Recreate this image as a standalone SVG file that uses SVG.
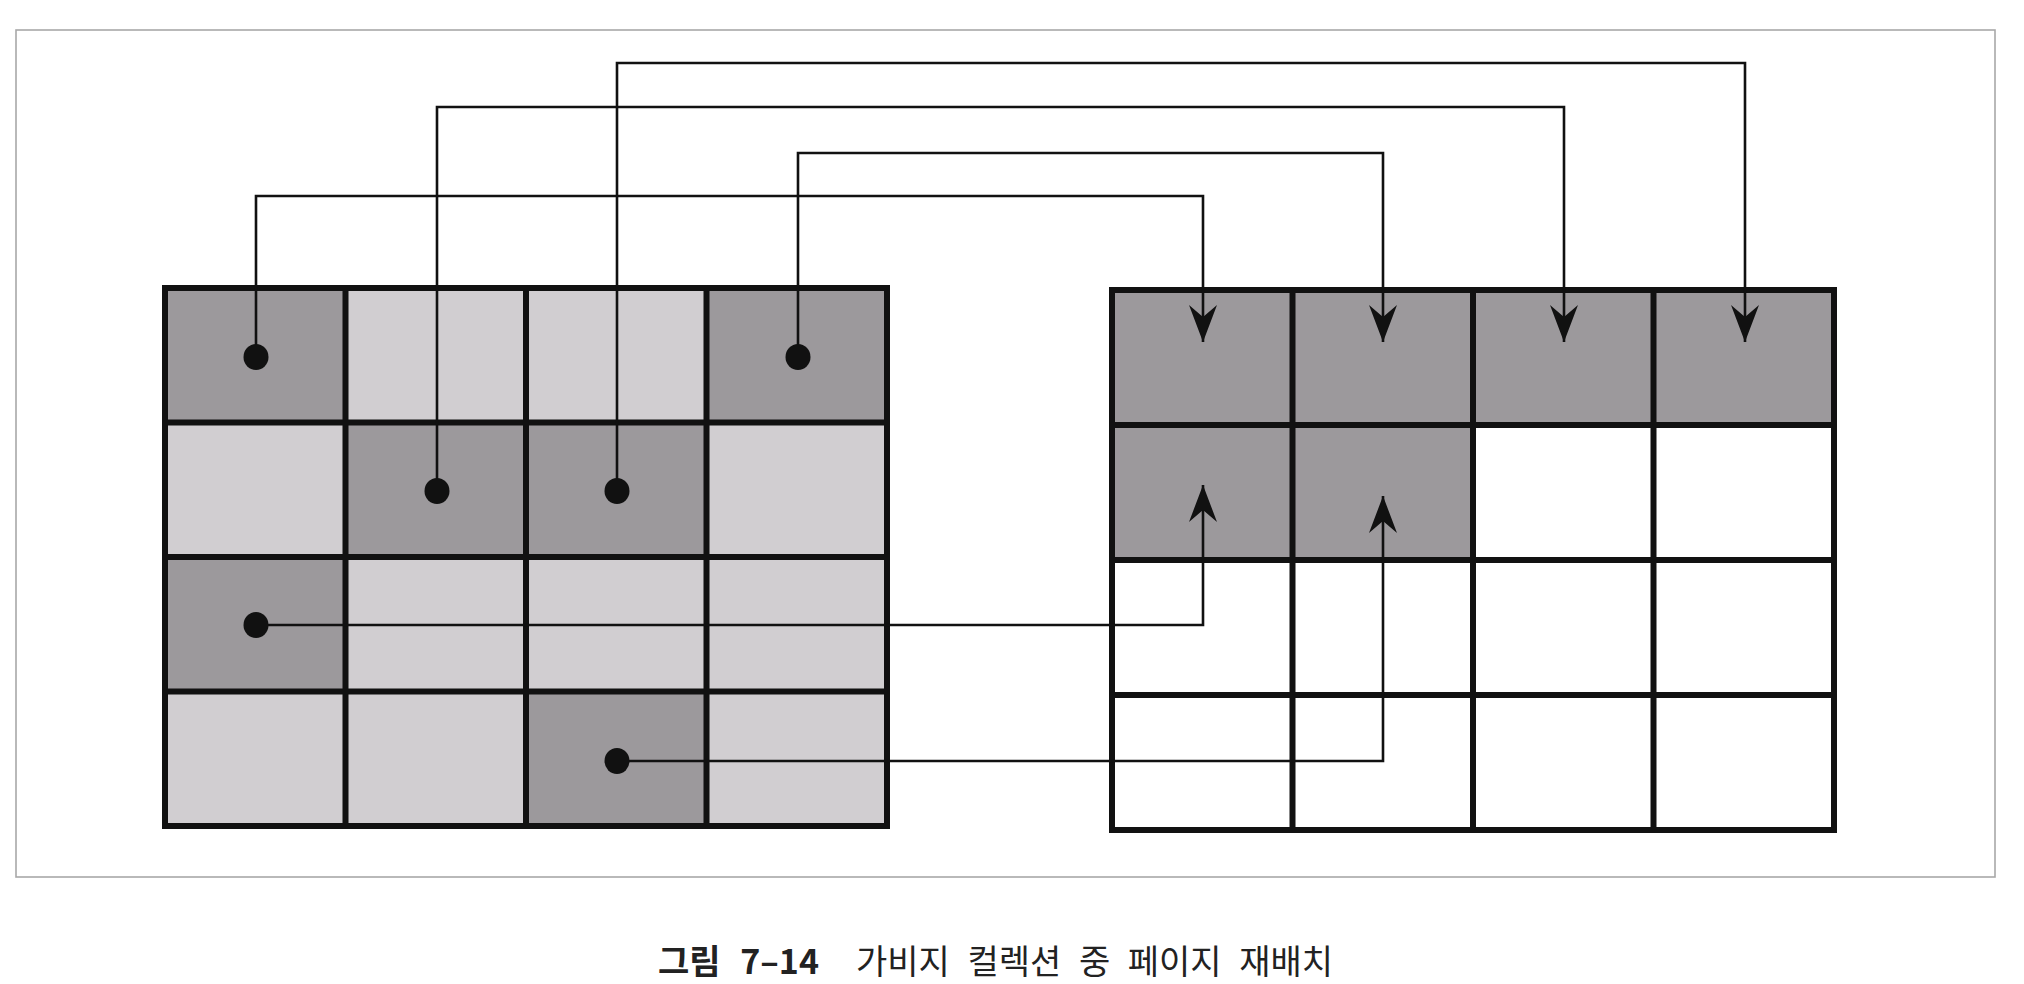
<svg xmlns="http://www.w3.org/2000/svg" width="2024" height="984" viewBox="0 0 2024 984">
  <style>
    .dark { fill: #9c999c; }
    .light { fill: #d1ced1; }
    .white { fill: #ffffff; }
    .grid { fill: none; stroke: #111; stroke-width: 6; stroke-linecap: square; }
    .conn { fill: none; stroke: #111; stroke-width: 2.6; }
    .dot { fill: #111; }
    .cap { font-family: "Noto Sans CJK KR", "Noto Sans", sans-serif; font-size: 34px; fill: #222; }
  </style>
  <defs>
    <marker id="arrow" markerUnits="userSpaceOnUse" markerWidth="40" markerHeight="32" refX="0" refY="0" viewBox="-38 -16 40 32" orient="auto" overflow="visible">
      <path d="M0,0 L-37,-14 L-25,0 L-37,14 Z" fill="#111"/>
    </marker>
  </defs>
  <rect width="2024" height="984" fill="#ffffff"/>
  <rect x="16" y="30" width="1979" height="847" fill="none" stroke="#a8a8a8" stroke-width="1.6"/>

  <g id="old-blocks">
    <rect class="dark" x="165" y="288" width="180.5" height="134.5"/>
    <rect class="light" x="345.5" y="288" width="180.5" height="134.5"/>
    <rect class="light" x="526" y="288" width="180.5" height="134.5"/>
    <rect class="dark" x="706.5" y="288" width="180.5" height="134.5"/>
    <rect class="light" x="165" y="422.5" width="180.5" height="134.5"/>
    <rect class="dark" x="345.5" y="422.5" width="180.5" height="134.5"/>
    <rect class="dark" x="526" y="422.5" width="180.5" height="134.5"/>
    <rect class="light" x="706.5" y="422.5" width="180.5" height="134.5"/>
    <rect class="dark" x="165" y="557" width="180.5" height="134.5"/>
    <rect class="light" x="345.5" y="557" width="180.5" height="134.5"/>
    <rect class="light" x="526" y="557" width="180.5" height="134.5"/>
    <rect class="light" x="706.5" y="557" width="180.5" height="134.5"/>
    <rect class="light" x="165" y="691.5" width="180.5" height="134.5"/>
    <rect class="light" x="345.5" y="691.5" width="180.5" height="134.5"/>
    <rect class="dark" x="526" y="691.5" width="180.5" height="134.5"/>
    <rect class="light" x="706.5" y="691.5" width="180.5" height="134.5"/>
    <path class="grid" d="M165,288 H887 V826 H165 Z M345.5,288 V826 M526,288 V826 M706.5,288 V826 M165,422.5 H887 M165,557 H887 M165,691.5 H887"/>
  </g>

  <g id="new-blocks">
    <rect class="dark" x="1112" y="290" width="722" height="135"/>
    <rect class="dark" x="1112" y="425" width="361" height="135"/>
    <rect class="white" x="1473" y="425" width="361" height="135"/>
    <rect class="white" x="1112" y="560" width="722" height="270"/>
    <path class="grid" d="M1112,290 H1834 V830 H1112 Z M1292.5,290 V830 M1473,290 V830 M1653.5,290 V830 M1112,425 H1834 M1112,560 H1834 M1112,695 H1834"/>
  </g>

  <g id="connectors">
    <path class="conn" d="M256,357 V196 H1203 V342" marker-end="url(#arrow)"/>
    <path class="conn" d="M798,357 V153 H1383 V342" marker-end="url(#arrow)"/>
    <path class="conn" d="M437,491 V107 H1564 V342" marker-end="url(#arrow)"/>
    <path class="conn" d="M617,491 V63 H1745 V342" marker-end="url(#arrow)"/>
    <path class="conn" d="M256,625 H1203 V485" marker-end="url(#arrow)"/>
    <path class="conn" d="M617,761 H1383 V496" marker-end="url(#arrow)"/>
    <ellipse class="dot" cx="256" cy="357" rx="12.5" ry="13"/>
    <ellipse class="dot" cx="798" cy="357" rx="12.5" ry="13"/>
    <ellipse class="dot" cx="437" cy="491" rx="12.5" ry="13"/>
    <ellipse class="dot" cx="617" cy="491" rx="12.5" ry="13"/>
    <ellipse class="dot" cx="256" cy="625" rx="12.5" ry="13"/>
    <ellipse class="dot" cx="617" cy="761" rx="12.5" ry="13"/>
  </g>

  <g id="caption">
    <text class="cap" x="658" y="974" font-weight="bold" word-spacing="12">그림 7–14</text>
    <text class="cap" x="856" y="974" word-spacing="10">가비지 컬렉션 중 페이지 재배치</text>
  </g>
</svg>
